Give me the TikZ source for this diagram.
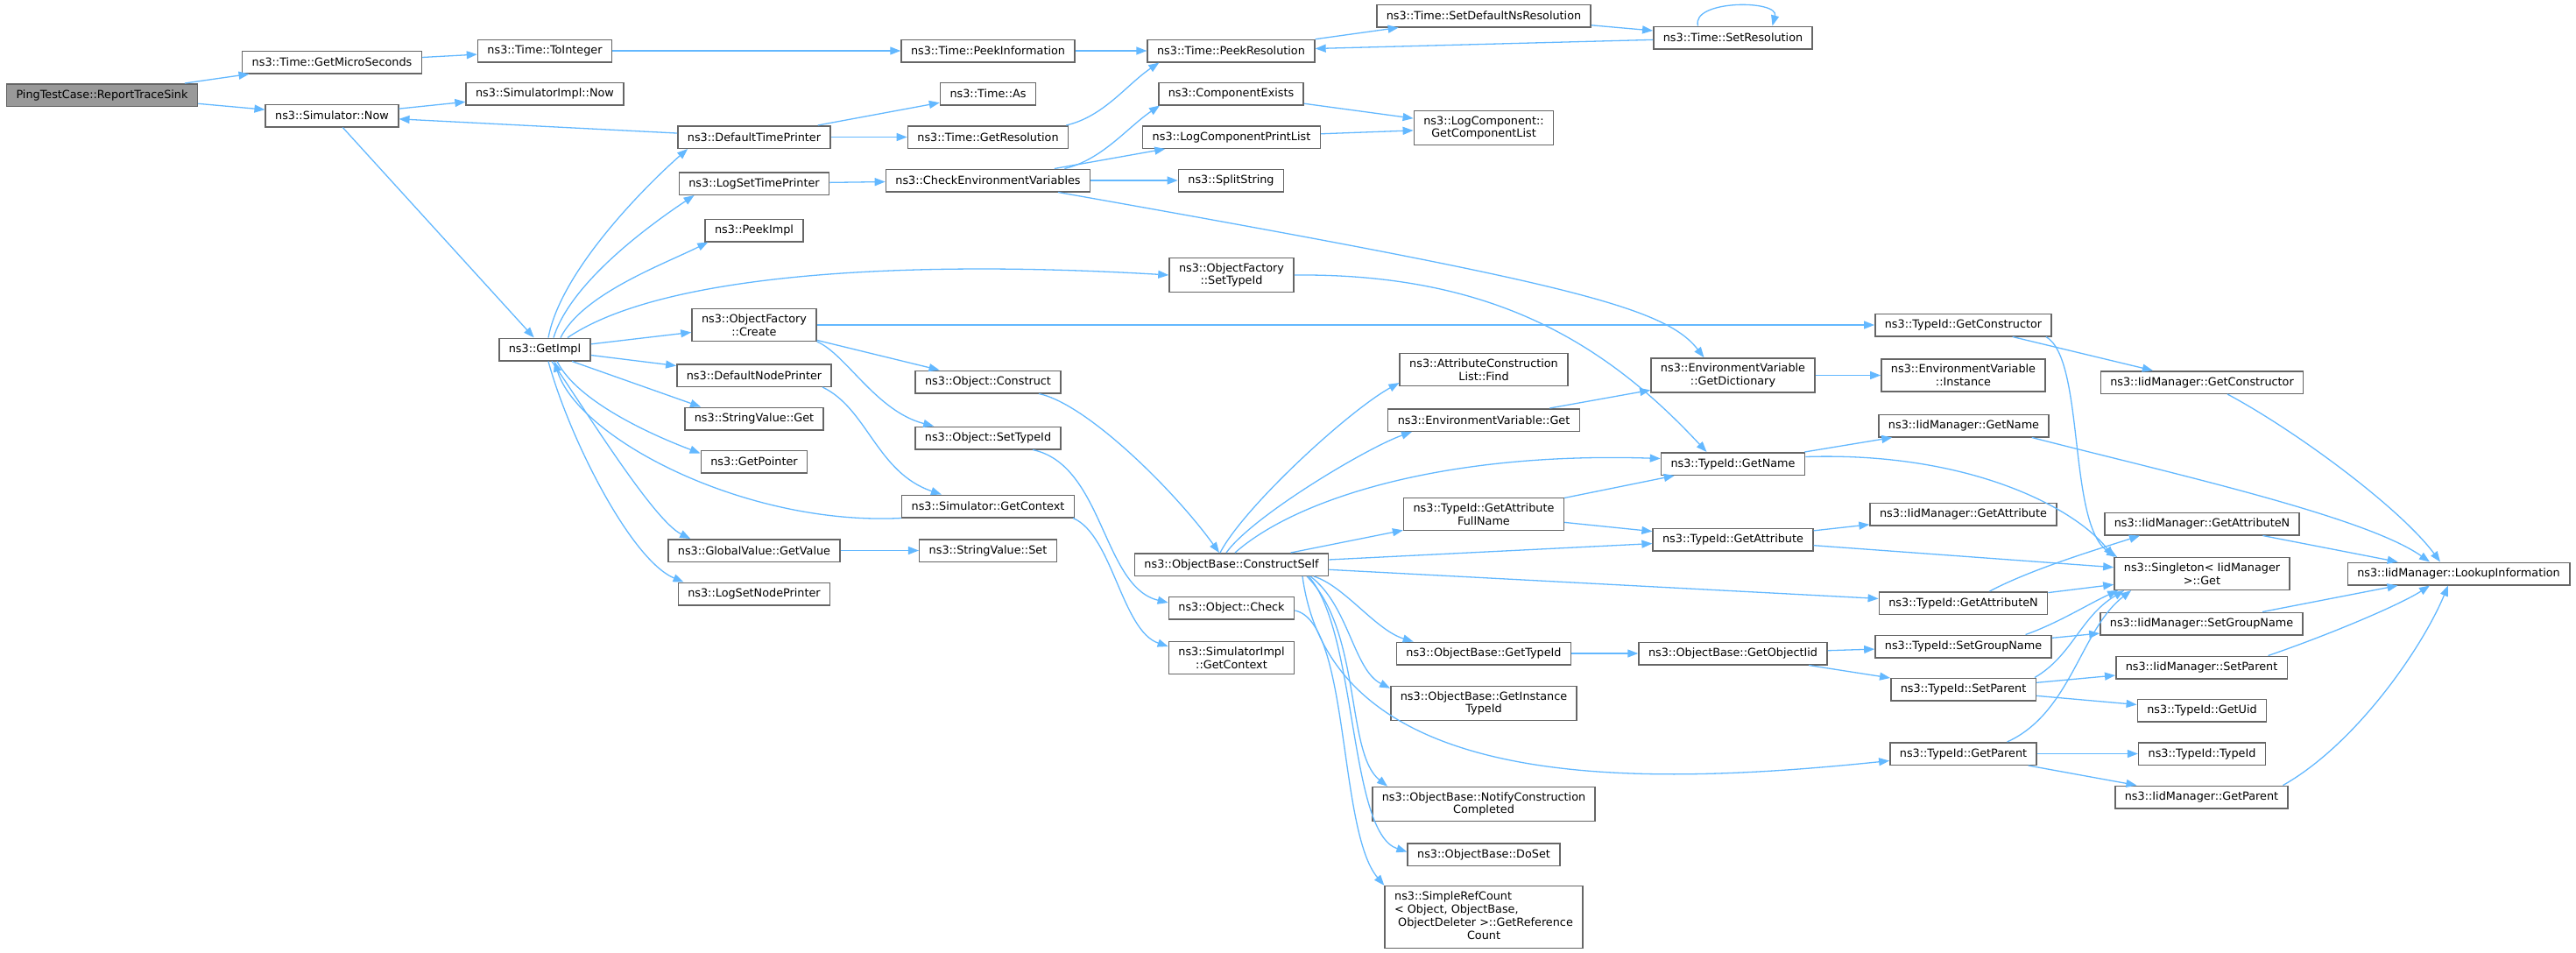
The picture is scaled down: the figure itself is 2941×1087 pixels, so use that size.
\documentclass[tikz,border=0pt]{standalone}
\usepackage{fontspec}
\setmainfont{DejaVu Sans}
\usetikzlibrary{arrows.meta}

\definecolor{edgeblue}{HTML}{63B8FF}
\definecolor{boxgray}{HTML}{666666}
\definecolor{rootgray}{HTML}{999999}

\begin{document}
\begin{tikzpicture}[x=1pt, y=1pt, % one unit is one pixel of the graph
>={Triangle[length=12pt,width=9pt]},
fn/.style={rectangle, draw=boxgray, line width=1.5pt, fill=white, minimum height=25.5pt, inner xsep=11pt, inner ysep=6pt, align=center, font=\fontsize{12.8}{14.7}\selectfont},
fn_root/.style={fn, fill=rootgray},
call/.style={->, draw=edgeblue, line width=1.3pt},
]
\useasboundingbox (0,0) rectangle (2941,-1087);

% \node[type](name_of_node) at (x,y) {text_in_node}
\node[fn_root](root) at (116.5,-108.5) {PingTestCase::ReportTraceSink};
\node[fn](getmicro) at (379,-71) {ns3::Time::GetMicroSeconds};
\node[fn](simnow) at (379,-132) {ns3::Simulator::Now};
\node[fn](tointeger) at (622,-58) {ns3::Time::ToInteger};
\node[fn](implnow) at (622,-107) {ns3::SimulatorImpl::Now};
\node[fn](getimpl) at (622,-399) {ns3::GetImpl};

% column of the printers
\node[fn](deftimeprn) at (861,-156.5) {ns3::DefaultTimePrinter};
\node[fn](logsettime) at (861,-209.5) {ns3::LogSetTimePrinter};
\node[fn](peekimpl) at (861,-263) {ns3::PeekImpl};
\node[fn](ofcreate) at (861,-371) {ns3::ObjectFactory\\::Create};
\node[fn](defnodeprn) at (861,-428.5) {ns3::DefaultNodePrinter};
\node[fn](svget) at (861,-478) {ns3::StringValue::Get};
\node[fn](getpointer) at (861,-527) {ns3::GetPointer};
\node[fn](gvgetvalue) at (861,-628.5) {ns3::GlobalValue::GetValue};
\node[fn](logsetnode) at (861,-678) {ns3::LogSetNodePrinter};

% time, environment and object calls
\node[fn](peekinfo) at (1128,-58) {ns3::Time::PeekInformation};
\node[fn](timeas) at (1128,-107) {ns3::Time::As};
\node[fn](getres) at (1128,-156.5) {ns3::Time::GetResolution};
\node[fn](checkenv) at (1128,-206) {ns3::CheckEnvironmentVariables};
\node[fn](objconstruct) at (1128,-436) {ns3::Object::Construct};
\node[fn](objsettypeid) at (1128,-500) {ns3::Object::SetTypeId};
\node[fn](simgetctx) at (1128,-578) {ns3::Simulator::GetContext};
\node[fn](svset) at (1128,-628.5) {ns3::StringValue::Set};

\node[fn](peekres) at (1405.5,-58) {ns3::Time::PeekResolution};
\node[fn](compexists) at (1405.5,-107) {ns3::ComponentExists};
\node[fn](logcompprint) at (1406,-156.5) {ns3::LogComponentPrintList};
\node[fn](splitstr) at (1405.5,-206) {ns3::SplitString};
\node[fn](ofsettypeid) at (1406,-314) {ns3::ObjectFactory\\::SetTypeId};
\node[fn](constructself) at (1406,-644.5) {ns3::ObjectBase::ConstructSelf};
\node[fn](objcheck) at (1406,-694) {ns3::Object::Check};
\node[fn](implgetctx) at (1406,-751) {ns3::SimulatorImpl\\::GetContext};

\node[fn](setdefns) at (1694,-18) {ns3::Time::SetDefaultNsResolution};
\node[fn](getcomplist) at (1694,-146) {ns3::LogComponent::\\GetComponentList};
\node[fn](attrfind) at (1694,-422) {ns3::AttributeConstruction\\List::Find};
\node[fn](envget) at (1694,-479.5) {ns3::EnvironmentVariable::Get};
\node[fn](tidgetattrfull) at (1694,-587) {ns3::TypeId::GetAttribute\\FullName};
\node[fn](obgettypeid) at (1694,-746) {ns3::ObjectBase::GetTypeId};
\node[fn](obinstancetid) at (1694,-803) {ns3::ObjectBase::GetInstance\\TypeId};
\node[fn](obnotify) at (1694,-918) {ns3::ObjectBase::NotifyConstruction\\Completed};
\node[fn](obdoset) at (1694,-975.5) {ns3::ObjectBase::DoSet};
\node[fn](refcount) at (1694,-1047) {\begin{tabular}{@{}l@{}}ns3::SimpleRefCount\\< Object, ObjectBase,\\~ObjectDeleter >::GetReference\\\multicolumn{1}{@{}c@{}}{Count}\end{tabular}};

\node[fn](setres) at (1978.5,-43) {ns3::Time::SetResolution};
\node[fn](envgetdict) at (1978.5,-428.5) {ns3::EnvironmentVariable\\::GetDictionary};
\node[fn](tidgetname) at (1978.5,-529.5) {ns3::TypeId::GetName};
\node[fn](tidgetattr) at (1978.5,-616) {ns3::TypeId::GetAttribute};
\node[fn](obgetobjectiid) at (1978.5,-746) {ns3::ObjectBase::GetObjectIid};

% TypeId column
\node[fn](tidgetctor) at (2241.5,-371) {ns3::TypeId::GetConstructor};
\node[fn](envinstance) at (2241.5,-428.5) {ns3::EnvironmentVariable\\::Instance};
\node[fn](iidgetname) at (2242,-486) {ns3::IidManager::GetName};
\node[fn](iidgetattr) at (2241.5,-587) {ns3::IidManager::GetAttribute};
\node[fn](tidgetattrn) at (2241.5,-688.5) {ns3::TypeId::GetAttributeN};
\node[fn](tidsetgroup) at (2241.5,-738) {ns3::TypeId::SetGroupName};
\node[fn](tidsetparent) at (2241.5,-787) {ns3::TypeId::SetParent};
\node[fn](tidgetparent) at (2241.5,-860.5) {ns3::TypeId::GetParent};

% IidManager column
\node[fn](iidgetctor) at (2514,-436.5) {ns3::IidManager::GetConstructor};
\node[fn](iidgetattrn) at (2514,-598) {ns3::IidManager::GetAttributeN};
\node[fn](singleton) at (2514,-655) {ns3::Singleton< IidManager\\>::Get};
\node[fn](iidsetgroup) at (2513.5,-712) {ns3::IidManager::SetGroupName};
\node[fn](iidsetparent) at (2513.5,-762) {ns3::IidManager::SetParent};
\node[fn](tidgetuid) at (2514,-811) {ns3::TypeId::GetUid};
\node[fn](tidtypeid) at (2514,-860.5) {ns3::TypeId::TypeId};
\node[fn](iidgetparent) at (2513.5,-910) {ns3::IidManager::GetParent};
\node[fn](lookup) at (2807,-655) {ns3::IidManager::LookupInformation};

% \draw[call] (name_of_node) -- (name_of_node)
\draw[call] (root) -- (getmicro);
\draw[call] (root) -- (simnow);
\draw[call] (getmicro) -- (tointeger);
\draw[call] (tointeger) -- (peekinfo);
\draw[call] (peekinfo) -- (peekres);
\draw[call] (peekres) -- (setdefns);
\draw[call] (setdefns) -- (setres);
\draw[call] (setres) -- (peekres);
\draw[call] ([xshift=-40pt]setres.north) .. controls +(-8,30) and +(8,30) .. ([xshift=45pt]setres.north);
\draw[call] (simnow) -- (implnow);
\draw[call] (simnow) -- (getimpl);
\draw[call] (deftimeprn) -- (simnow);
\draw[call] (deftimeprn) -- (timeas);
\draw[call] (deftimeprn) -- (getres);
\draw[call] ([xshift=-3pt]getres.north east) .. controls +(43,10) and +(-37,-25) .. ([xshift=14pt]peekres.south west);
\draw[call] (logsettime) -- (checkenv);
\draw[call] ([xshift=-30pt]checkenv.north east) .. controls +(43,10) and +(-37,-25) .. ([xshift=2pt]compexists.south west);
\draw[call] (checkenv) -- (logcompprint);
\draw[call] (checkenv) -- (splitstr);
\draw[call] ([xshift=80pt]checkenv.south) .. controls +(582,-103) and +(-45,58) .. ([xshift=-33pt]envgetdict.north);
\draw[call] (compexists) -- (getcomplist);
\draw[call] (logcompprint) -- (getcomplist);

% out of ns3::GetImpl
\draw[call] ([xshift=4pt]getimpl.north) .. controls +(15,80) and +(-40,-35) .. ([xshift=12pt]deftimeprn.south west);
\draw[call] ([xshift=10pt]getimpl.north) .. controls +(20,65) and +(-45,-30) .. ([xshift=18pt]logsettime.south west);
\draw[call] ([xshift=18pt]getimpl.north) .. controls +(25,50) and +(-50,-25) .. ([xshift=4pt]peekimpl.south west);
\draw[call] ([xshift=26pt]getimpl.north) .. controls +(112,76) and +(-285,17) .. (ofsettypeid.west);
\draw[call] (getimpl) -- (ofcreate);
\draw[call] (getimpl) -- (defnodeprn);
\draw[call] ([xshift=31pt]getimpl.south) -- ([xshift=19pt]svget.north west);
\draw[call] ([xshift=14pt]getimpl.south) .. controls +(25,-50) and +(-40,15) .. ([yshift=-4pt]getpointer.north west);
\draw[call] ([xshift=8pt]getimpl.south) .. controls +(40,-58) and +(-42,21) .. ([xshift=26pt]gvgetvalue.north west);
\draw[call] ([xshift=4pt]getimpl.south) .. controls +(24,-88) and +(-60,25) .. ([xshift=7pt]logsetnode.north west);
\draw[call] (simgetctx.south west) .. controls +(-178,-9) and +(27,-88) .. ([xshift=11pt]getimpl.south);
\draw[call] (gvgetvalue) -- (svset);
\draw[call] ([xshift=78pt]defnodeprn.south) .. controls +(51,-24) and +(-74,25) .. ([xshift=46pt]simgetctx.north west);

% object construction
\draw[call] (ofcreate) -- (objconstruct);
\draw[call] (ofcreate.south east) .. controls +(33,-14) and +(-66,17) .. ([xshift=22pt]objsettypeid.north west);
\draw[call] (ofcreate) -- (tidgetctor);
\draw[call] (ofsettypeid.east) .. controls +(223,2) and +(-118,127) .. ([xshift=-30pt]tidgetname.north);
\draw[call] ([xshift=58pt]objconstruct.south) .. controls +(54,-11) and +(-52,72) .. ([xshift=-14pt]constructself.north);
\draw[call] ([xshift=51pt]objsettypeid.south) .. controls +(81,-17) and +(-75,18) .. ([yshift=6pt]objcheck.west);
\draw[call] ([xshift=-2pt]simgetctx.south east) .. controls +(45,-19) and +(-53,18) .. ([yshift=13pt]implgetctx.west);

% out of ns3::ObjectBase::ConstructSelf
\draw[call] ([xshift=-13pt]constructself.north) .. controls +(27,52) and +(-58,-32) .. ([yshift=4pt]attrfind.south west);
\draw[call] ([xshift=-6pt]constructself.north) .. controls +(30,42) and +(-51,-18) .. ([xshift=28pt]envget.south west);
\draw[call] ([xshift=4pt]constructself.north) .. controls +(70,62) and +(-246,8) .. ([yshift=6pt]tidgetname.west);
\draw[call] (constructself) -- (tidgetattrfull);
\draw[call] (constructself) -- (tidgetattr);
\draw[call] (constructself) -- (tidgetattrn);
\draw[call] ([xshift=94pt]constructself.south) .. controls +(35,-11) and +(-43,13) .. ([xshift=20pt]obgettypeid.north west);
\draw[call] ([xshift=90pt]constructself.south) .. controls +(44,-33) and +(-42,21) .. ([yshift=-3pt]obinstancetid.north west);
\draw[call] ([xshift=81pt]constructself.south) .. controls +(33,-243) and +(-308,-32) .. ([yshift=-8pt]tidgetparent.west);
\draw[call] ([xshift=86pt]constructself.south) .. controls +(63,-63) and +(-48,38) .. ([xshift=18pt]obnotify.north west);
\draw[call] ([xshift=88pt]constructself.south) .. controls +(56,-63) and +(-67,22) .. ([yshift=3pt]obdoset.west);
\draw[call] ([yshift=-3pt]objcheck.east) .. controls +(63,-13) and +(-53,62) .. (refcount.north west);

% TypeId and IidManager calls
\draw[call] (tidgetctor) -- (iidgetctor);
\draw[call] ([xshift=-7pt]tidgetctor.south east) .. controls +(45,-26) and +(-57,35) .. ([xshift=4pt]singleton.north west);
\draw[call] (envgetdict) -- (envinstance);
\draw[call] (envget) -- (envgetdict);
\draw[call] (tidgetname) -- (iidgetname);
\draw[call] ([yshift=8pt]tidgetname.east) .. controls +(189,6) and +(-43,55) .. (singleton.north west);
\draw[call] ([xshift=-20pt]iidgetname.south east) .. controls +(160,-41) and +(-74,52) .. ([xshift=-33pt]lookup.north);
\draw[call] ([xshift=29pt]iidgetctor.south) .. controls +(77,-41) and +(-46,62) .. ([xshift=-21pt]lookup.north);
\draw[call] (tidgetattrfull) -- (tidgetname);
\draw[call] (tidgetattrfull) -- (tidgetattr);
\draw[call] (tidgetattr) -- (iidgetattr);
\draw[call] (tidgetattr) -- (singleton);
\draw[call] ([xshift=30pt]tidgetattrn.north) .. controls +(49,26) and +(-43,-14) .. ([xshift=-71pt]iidgetattrn.south);
\draw[call] (tidgetattrn) -- (singleton);
\draw[call] (iidgetattrn) -- (lookup);
\draw[call] (obgettypeid) -- (obgetobjectiid);
\draw[call] (obgetobjectiid) -- (tidsetgroup);
\draw[call] (obgetobjectiid) -- (tidsetparent);
\draw[call] (tidsetgroup) -- (iidsetgroup);
\draw[call] ([xshift=71pt]tidsetgroup.north) .. controls +(37,13) and +(-33,-15) .. ([xshift=5pt]singleton.south west);
\draw[call] (tidsetparent) -- (iidsetparent);
\draw[call] (tidsetparent) -- (tidgetuid);
\draw[call] ([xshift=-2pt]tidsetparent.north east) .. controls +(43,25) and +(-50,-30) .. ([xshift=12pt]singleton.south west);
\draw[call] ([xshift=50pt]tidgetparent.north) .. controls +(73,33) and +(-58,-45) .. ([xshift=20pt]singleton.south west);
\draw[call] (tidgetparent) -- (tidtypeid);
\draw[call] (tidgetparent) -- (iidgetparent);
\draw[call] (iidsetgroup) -- (lookup);
\draw[call] ([xshift=76pt]iidsetparent.north) .. controls +(70,24) and +(-34,-22) .. ([xshift=-33pt]lookup.south);
\draw[call] ([xshift=93pt]iidgetparent.north) .. controls +(83,47) and +(-30,-72) .. ([xshift=-12pt]lookup.south);

\end{tikzpicture}
\end{document}
